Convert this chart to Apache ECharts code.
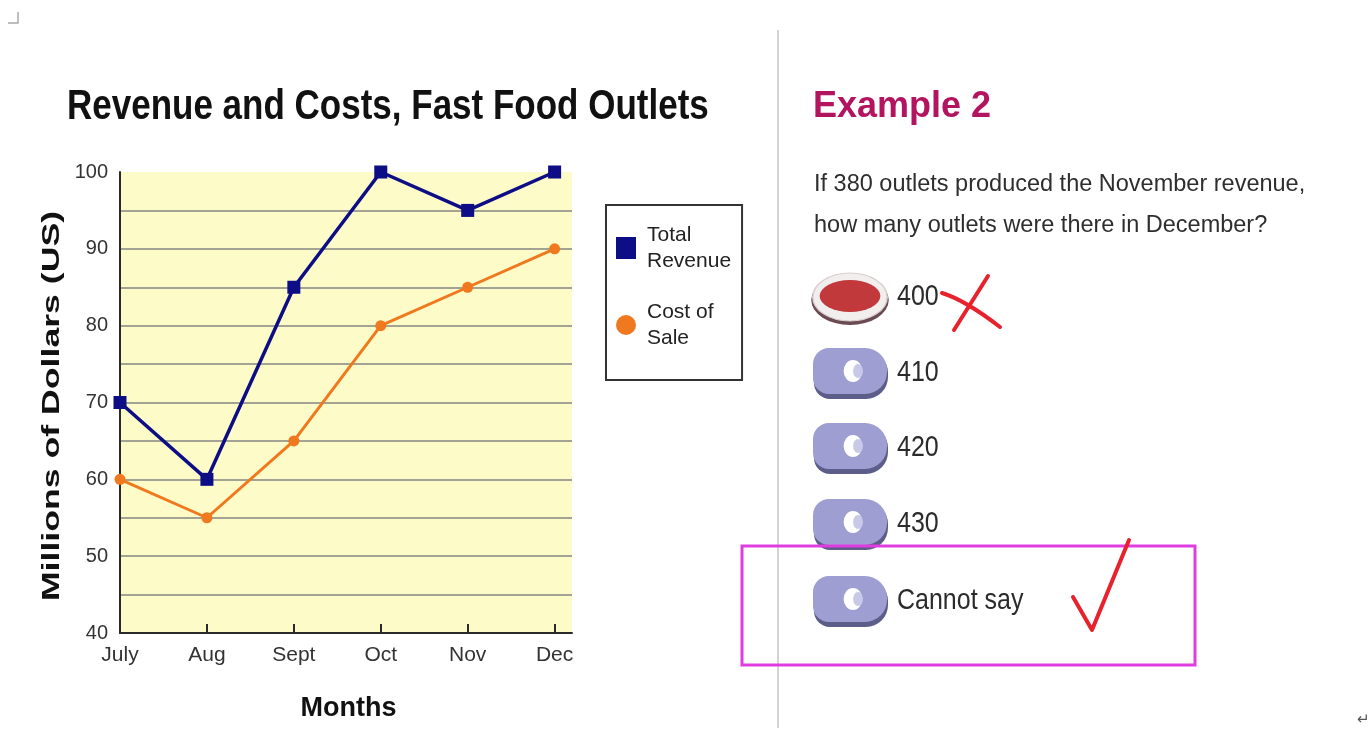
<!DOCTYPE html>
<html>
<head>
<meta charset="utf-8">
<script src="https://cdn.jsdelivr.net/npm/echarts@6/dist/echarts.min.js"></script>
<style>
  html, body { margin: 0; padding: 0; background: #fff; }
  #chart { width: 1372px; height: 736px; }
</style>
</head>
<body>
<div id="chart"></div>
<script>
const months = ['July', 'Aug', 'Sept', 'Oct', 'Nov', 'Dec']
const totalRevenue = [70, 60, 85, 100, 95, 100]
const costOfSale = [60, 55, 65, 80, 85, 90]
const yTicks = [40, 50, 60, 70, 80, 90, 100]
const answers = ['400', '410', '420', '430', 'Cannot say']

const FONT = '"Liberation Sans", Arial, sans-serif'
const BLUE = '#0d0d86'
const ORANGE = '#f0791f'

// month index on a value axis, so the plot can run a little past Dec like the original
const monthIdx = months.map((m, i) => i)
const toPoints = arr => arr.map((v, i) => [i, v])

// option buttons on the right side
const optionTop = 297
const optionStep = 75.5
function buttonGraphics() {
  let out = []
  answers.forEach((label, i) => {
    let cy = Math.round(optionTop + i * optionStep + (i === 4 ? 2 : 0))
    if (i === 0) {
      // selected (red) button
      out.push({ type: 'circle', shape: { cx: 850, cy: cy + 3, r: 25 }, scaleX: 1.55, originX: 850, originY: cy + 3,
        style: { fill: '#6b4a52' } })
      out.push({ type: 'circle', shape: { cx: 850, cy: cy, r: 24 }, scaleX: 1.55, originX: 850, originY: cy,
        style: { fill: '#f2eeee', stroke: '#d8d0d0', lineWidth: 1 } })
      out.push({ type: 'circle', shape: { cx: 850, cy: cy - 1, r: 16 }, scaleX: 1.9, originX: 850, originY: cy - 1,
        style: { fill: '#c2393c' } })
    } else {
      out.push({ type: 'rect', shape: { x: 814, y: cy - 22, width: 74, height: 48, r: [16, 22, 22, 16] },
        style: { fill: '#5d5d8a' } })
      out.push({ type: 'rect', shape: { x: 813, y: cy - 25, width: 74, height: 46, r: [16, 22, 22, 16] },
        style: { fill: '#9e9ed2' } })
      out.push({ type: 'circle', shape: { cx: 853, cy: cy - 2, r: 11 }, scaleX: 0.85, originX: 853, originY: cy - 2,
        style: { fill: '#ffffff' } })
      out.push({ type: 'circle', shape: { cx: 858, cy: cy - 2, r: 7 }, scaleX: 0.7, originX: 858, originY: cy - 2,
        style: { fill: '#c8c8e8' } })
    }
    out.push({ type: 'text', x: 897, y: cy, scaleY: 1.2, style: { text: label, font: '25px ' + FONT, fill: '#2b2b2b',
      textVerticalAlign: 'middle' } })
  })
  return out
}

const chart = echarts.init(document.getElementById('chart'))

chart.setOption({
  backgroundColor: '#ffffff',
  animation: false,
  legend: {
    orient: 'vertical',
    left: 606,
    top: 205,
    padding: [17, 11, 29, 10],
    itemGap: 25,
    itemWidth: 20,
    itemHeight: 22,
    borderColor: '#333',
    borderWidth: 2,
    backgroundColor: '#fff',
    data: [
      { name: 'Total Revenue', icon: 'rect' },
      { name: 'Cost of Sale', icon: 'circle' }
    ],
    formatter: name => name === 'Total Revenue' ? 'Total\nRevenue' : 'Cost of\nSale',
    textStyle: { fontFamily: FONT, fontSize: 21, lineHeight: 26, color: '#222', padding: [0, 0, 0, 6] }
  },
  grid: {
    left: 120,
    top: 172,
    right: 800,
    bottom: 103,
    show: true,
    backgroundColor: '#fdfcc8',
    borderWidth: 0
  },
  xAxis: {
    type: 'value',
    min: 0,
    max: 5.2,
    name: 'Months',
    nameLocation: 'middle',
    nameGap: 62,
    nameTextStyle: { fontFamily: FONT, fontSize: 27, fontWeight: 'bold', color: '#111', padding: [0, 0, 0, 5] },
    axisLine: { lineStyle: { color: '#2a2a2a', width: 2 } },
    axisTick: { show: true, inside: true, length: 9, customValues: monthIdx, lineStyle: { color: '#2a2a2a', width: 2 } },
    axisLabel: {
      fontFamily: FONT, fontSize: 21, color: '#333', margin: 12,
      customValues: monthIdx,
      formatter: v => months[Math.round(v)] || ''
    },
    splitLine: { show: false }
  },
  yAxis: {
    type: 'value',
    min: 40,
    max: 100,
    interval: 10,
    axisLine: { show: true, lineStyle: { color: '#2a2a2a', width: 2 } },
    axisTick: { show: false },
    axisLabel: {
      fontFamily: FONT, fontSize: 20, color: '#333', margin: 12,
      formatter: v => yTicks.indexOf(v) >= 0 ? String(v) : ''
    },
    splitLine: { show: true, showMinLine: false, showMaxLine: false, lineStyle: { color: '#a3a394', width: 2 } },
    minorTick: { show: false, splitNumber: 2 },
    minorSplitLine: { show: true, lineStyle: { color: '#a3a394', width: 2 } }
  },
  series: [
    {
      name: 'Total Revenue',
      type: 'line',
      data: toPoints(totalRevenue),
      color: BLUE,
      symbol: 'rect',
      symbolSize: 13,
      lineStyle: { width: 3.5, color: BLUE },
      itemStyle: { color: BLUE },
      z: 3
    },
    {
      name: 'Cost of Sale',
      type: 'line',
      data: toPoints(costOfSale),
      color: ORANGE,
      symbol: 'circle',
      symbolSize: 11,
      lineStyle: { width: 3, color: ORANGE },
      itemStyle: { color: ORANGE },
      z: 2
    }
  ],
  graphic: [
    // chart title (source text is a bit taller than the font)
    { type: 'text', x: 67, y: 107, scaleY: 1.2,
      style: { text: 'Revenue and Costs, Fast Food Outlets', font: 'bold 35px ' + FONT, fill: '#111',
        textVerticalAlign: 'middle' } },
    // y axis title, stretched along its length like the source image
    { type: 'text', x: 53, y: 406, rotation: Math.PI / 2, scaleX: 1.55,
      style: { text: 'Millions of Dollars (US)', font: 'bold 23px ' + FONT, fill: '#111',
        textAlign: 'center', textVerticalAlign: 'middle' } },
    // corner marks
    { type: 'polyline', shape: { points: [[18, 12], [18, 23], [8, 23]] }, style: { stroke: '#aaa', lineWidth: 1.5, fill: null } },
    { type: 'text', x: 1357, y: 712, style: { text: '\u21B5', font: '15px ' + FONT, fill: '#555' } },
    // divider
    { type: 'line', shape: { x1: 778, y1: 30, x2: 778, y2: 728 }, style: { stroke: '#d4d4d4', lineWidth: 2 } },
    { type: 'text', x: 813, y: 107, style: { text: 'Example 2', font: 'bold 36px ' + FONT, fill: '#b3145f', textVerticalAlign: 'middle' } },
    { type: 'text', x: 814, y: 185, style: { text: 'If 380 outlets produced the November revenue,', font: '23.5px ' + FONT, fill: '#2e2e2e', textVerticalAlign: 'middle' } },
    { type: 'text', x: 814, y: 226, style: { text: 'how many outlets were there in December?', font: '23.5px ' + FONT, fill: '#2e2e2e', textVerticalAlign: 'middle' } },
    ...buttonGraphics(),
    // red cross next to the wrong answer
    { type: 'bezierCurve', shape: { x1: 942, y1: 293, cpx1: 965, cpy1: 300, x2: 1000, y2: 327 }, style: { stroke: '#e8222c', lineWidth: 4, fill: null, lineCap: 'round' } },
    { type: 'line', shape: { x1: 988, y1: 276, x2: 954, y2: 330 }, style: { stroke: '#e8222c', lineWidth: 4, lineCap: 'round' } },
    // magenta box and check mark on the right answer
    { type: 'rect', shape: { x: 742, y: 546, width: 453, height: 119 }, style: { stroke: '#e03ce0', lineWidth: 3, fill: null } },
    { type: 'polyline', shape: { points: [[1073, 597], [1092, 630], [1129, 540]] }, style: { stroke: '#e8222c', lineWidth: 4, fill: null, lineCap: 'round', lineJoin: 'round' } }
  ]
})
</script>
</body>
</html>
